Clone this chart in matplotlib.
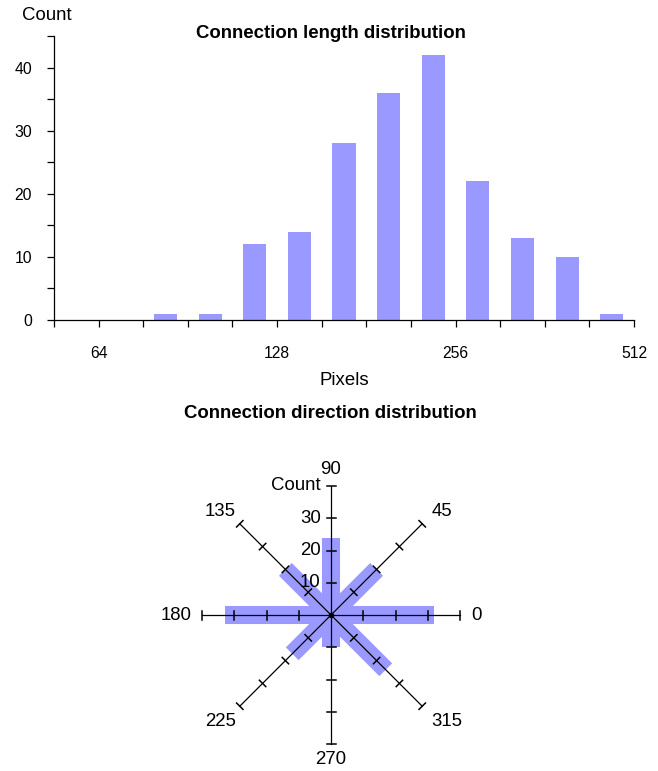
import numpy as np
import matplotlib
matplotlib.use('Agg')
import matplotlib.pyplot as plt
from matplotlib.ticker import NullFormatter

plt.rcParams['font.family'] = ['Liberation Sans', 'DejaVu Sans']

# Datos del histograma de longitudes (bins de cuarto de octava)
length_counts = [0, 0, 1, 1, 12, 14, 28, 36, 42, 22, 13, 10, 1]
length_ticks = [64, 128, 256, 512]

# Datos de la rosa de direcciones
dir_angles = [0, 45, 90, 135, 180, 225, 270, 315]
dir_counts = [32, 20, 24, 20, 33, 17, 10, 24]
count_ticks = [10, 20, 30, 40]

BAR = '#9999ff'
W, H = 658, 771
FS = 13.4   # etiquetas y titulos
TFS = 11.3  # numeros de los ejes del histograma

fig = plt.figure(figsize=(W / 100, H / 100), dpi=100)

# ---- Histograma ----
ax = fig.add_axes([54 / W, 1 - 320 / H, 580 / W, 284 / H])
edges = 64 * 2.0 ** ((np.arange(len(length_counts) + 1) - 1) / 4)
centers = np.sqrt(edges[:-1] * edges[1:])
half = 2 ** (0.129 / 2)
ax.bar(centers / half, length_counts, width=centers * half - centers / half,
       align='edge', color=BAR)
ax.set_xscale('log', base=2)
ax.set_xlim(edges[0], edges[-1])
ax.set_ylim(0, 45)
ax.set_xticks(length_ticks, labels=[str(v) for v in length_ticks])
ax.set_xticks(edges, minor=True)
ax.xaxis.set_minor_formatter(NullFormatter())
ax.set_yticks([0, 10, 20, 30, 40])
ax.set_yticks([5, 15, 25, 35, 45], minor=True)
ax.tick_params(which='both', direction='out', length=4.8, width=0.9, labelsize=TFS)
ax.tick_params(axis='x', pad=14)
ax.tick_params(axis='y', pad=11)
for s in ['top', 'right']:
    ax.spines[s].set_visible(False)
for s in ['left', 'bottom']:
    ax.spines[s].set_linewidth(0.9)
ax.set_xlabel('Pixels', fontsize=FS, labelpad=8)

fig.text(47 / W, 1 - 15 / H, 'Count', ha='center', va='center', fontsize=FS)
fig.text(331 / W, 1 - 34 / H, 'Connection length distribution',
         ha='center', va='center', fontsize=FS, fontweight='bold')
fig.text(330.5 / W, 1 - 413 / H, 'Connection direction distribution',
         ha='center', va='center', fontsize=FS, fontweight='bold')

# ---- Rosa de direcciones ----
px = 129 / 40.0  # pixeles por unidad de conteo
cx, cy = 331, 615
ax2 = fig.add_axes([0, 0, 1, 331 / H])
ax2.set_xlim(-cx / px, (W - cx) / px)
ax2.set_ylim(-(H - cy) / px, (cy - 440) / px)
ax2.axis('off')

rmax = count_ticks[-1]
for a, c in zip(dir_angles, dir_counts):
    t = np.radians(a)
    ax2.plot([0, c * np.cos(t)], [0, c * np.sin(t)], color=BAR, lw=13,
             solid_capstyle='butt', zorder=1)

tl = 4.5 / px
for a in dir_angles:
    t = np.radians(a)
    c, s = np.cos(t), np.sin(t)
    ax2.plot([0, rmax * c], [0, rmax * s], color='black', lw=0.9, zorder=3)
    for r in count_ticks:
        ax2.plot([r * c - tl * s, r * c + tl * s], [r * s + tl * c, r * s - tl * c],
                 color='black', lw=1.1, zorder=3)
ax2.plot(0, 0, 'o', color='black', ms=3, zorder=4)

# Etiquetas de angulo
for a in dir_angles:
    t = np.radians(a)
    c, s = np.cos(t), np.sin(t)
    end = (rmax * c, rmax * s)
    if a == 0:
        ha, va, off = 'left', 'center', (8.4, 0)
    elif a == 180:
        ha, va, off = 'right', 'center', (-7.2, 0)
    elif a == 90:
        ha, va, off = 'center', 'bottom', (0, 5.9)
    elif a == 270:
        ha, va, off = 'center', 'top', (0, -5)
    else:
        ha = 'left' if c > 0 else 'right'
        va = 'bottom' if s > 0 else 'top'
        off = (6.5 if c > 0 else -3, 2.7 if s > 0 else -5)
    ax2.annotate(str(a), end, xytext=off, textcoords='offset points',
                 ha=ha, va=va, fontsize=FS)

for r in count_ticks:
    lab = 'Count' if r == rmax else str(r)
    ax2.annotate(lab, (0, r), xytext=(-7.4, 0), textcoords='offset points',
                 ha='right', va='center', fontsize=FS)

fig.savefig('out.png', dpi=100)
